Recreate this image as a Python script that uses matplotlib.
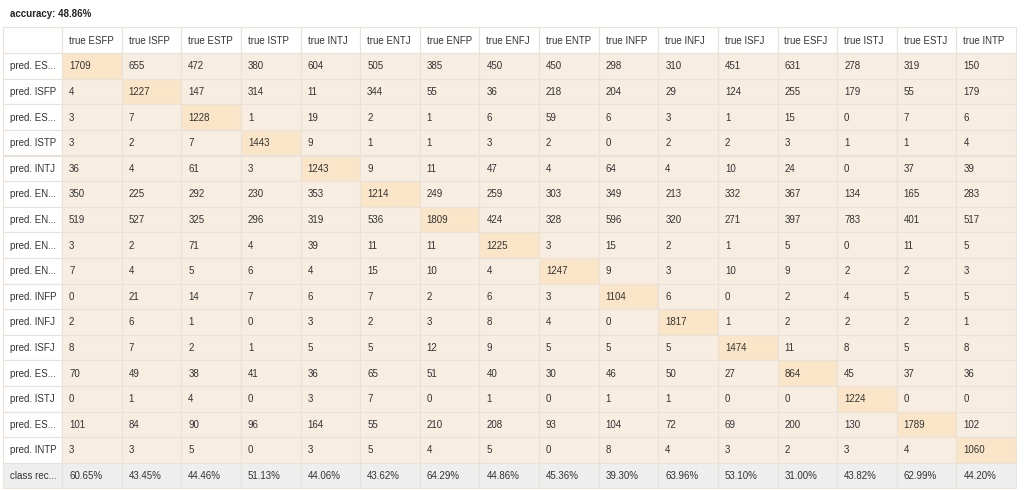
import matplotlib
matplotlib.use("Agg")
import matplotlib.pyplot as plt
from matplotlib.patches import Rectangle

plt.rcParams['font.family'] = ['Liberation Sans', 'DejaVu Sans']

accuracy = "accuracy: 48.86%"
col_labels = ["true ESFP", "true ISFP", "true ESTP", "true ISTP", "true INTJ", "true ENTJ",
              "true ENFP", "true ENFJ", "true ENTP", "true INFP", "true INFJ", "true ISFJ",
              "true ESFJ", "true ISTJ", "true ESTJ", "true INTP"]
row_labels = ["pred. ES...", "pred. ISFP", "pred. ES...", "pred. ISTP", "pred. INTJ",
              "pred. EN...", "pred. EN...", "pred. EN...", "pred. EN...", "pred. INFP",
              "pred. INFJ", "pred. ISFJ", "pred. ES...", "pred. ISTJ", "pred. ES...",
              "pred. INTP"]
matrix = [
    [1709, 655, 472, 380, 604, 505, 385, 450, 450, 298, 310, 451, 631, 278, 319, 150],
    [4, 1227, 147, 314, 11, 344, 55, 36, 218, 204, 29, 124, 255, 179, 55, 179],
    [3, 7, 1228, 1, 19, 2, 1, 6, 59, 6, 3, 1, 15, 0, 7, 6],
    [3, 2, 7, 1443, 9, 1, 1, 3, 2, 0, 2, 2, 3, 1, 1, 4],
    [36, 4, 61, 3, 1243, 9, 11, 47, 4, 64, 4, 10, 24, 0, 37, 39],
    [350, 225, 292, 230, 353, 1214, 249, 259, 303, 349, 213, 332, 367, 134, 165, 283],
    [519, 527, 325, 296, 319, 536, 1809, 424, 328, 596, 320, 271, 397, 783, 401, 517],
    [3, 2, 71, 4, 39, 11, 11, 1225, 3, 15, 2, 1, 5, 0, 11, 5],
    [7, 4, 5, 6, 4, 15, 10, 4, 1247, 9, 3, 10, 9, 2, 2, 3],
    [0, 21, 14, 7, 6, 7, 2, 6, 3, 1104, 6, 0, 2, 4, 5, 5],
    [2, 6, 1, 0, 3, 2, 3, 8, 4, 0, 1817, 1, 2, 2, 2, 1],
    [8, 7, 2, 1, 5, 5, 12, 9, 5, 5, 5, 1474, 11, 8, 5, 8],
    [70, 49, 38, 41, 36, 65, 51, 40, 30, 46, 50, 27, 864, 45, 37, 36],
    [0, 1, 4, 0, 3, 7, 0, 1, 0, 1, 1, 0, 0, 1224, 0, 0],
    [101, 84, 90, 96, 164, 55, 210, 208, 93, 104, 72, 69, 200, 130, 1789, 102],
    [3, 3, 5, 0, 3, 5, 4, 5, 0, 8, 4, 3, 2, 3, 4, 1060],
]
recall_label = "class rec..."
class_recall = ["60.65%", "43.45%", "44.46%", "51.13%", "44.06%", "43.62%", "64.29%", "44.86%",
                "45.36%", "39.30%", "63.96%", "53.10%", "31.00%", "43.82%", "62.99%", "44.20%"]

# layout in pixels
W, H = 1024, 490
left, label_w = 3, 59
col_w = (1016 - left - label_w) / len(col_labels)
top, row_h = 27.5, 25.6
pad = 7
fs = 7
txt = "#333333"

fig = plt.figure(figsize=(W / 100, H / 100), dpi=100)
ax = fig.add_axes([0, 0, 1, 1])
ax.set_xlim(0, W)
ax.set_ylim(H, 0)
ax.axis('off')

grid = "#e8e2da"

def cell(x, y, w, h, color, text, weight="normal"):
    ax.add_patch(Rectangle((x, y), w, h, facecolor=color, edgecolor=grid, linewidth=0.8))
    ax.text(x + pad, y + h / 2 + 0.5, text, fontsize=fs, color=txt, va='center', ha='left',
            fontweight=weight)

ax.text(10, 14, accuracy, fontsize=fs, color="#222222", fontweight='bold', va='center')

# header row
cell(left, top, label_w, row_h, "white", "")
for j, lab in enumerate(col_labels):
    cell(left + label_w + j * col_w, top, col_w, row_h, "white", lab)

# body
for i, lab in enumerate(row_labels):
    y = top + (i + 1) * row_h
    cell(left, y, label_w, row_h, "white", lab)
    for j, v in enumerate(matrix[i]):
        color = "#fbe5c8" if i == j else "#f7ede0"
        cell(left + label_w + j * col_w, y, col_w, row_h, color, str(v))

# class recall row
y = top + (len(row_labels) + 1) * row_h
cell(left, y, label_w, row_h, "#eeeeee", recall_label)
for j, v in enumerate(class_recall):
    cell(left + label_w + j * col_w, y, col_w, row_h, "#eeeeee", v)

fig.savefig("out.png", dpi=100, facecolor="white")
